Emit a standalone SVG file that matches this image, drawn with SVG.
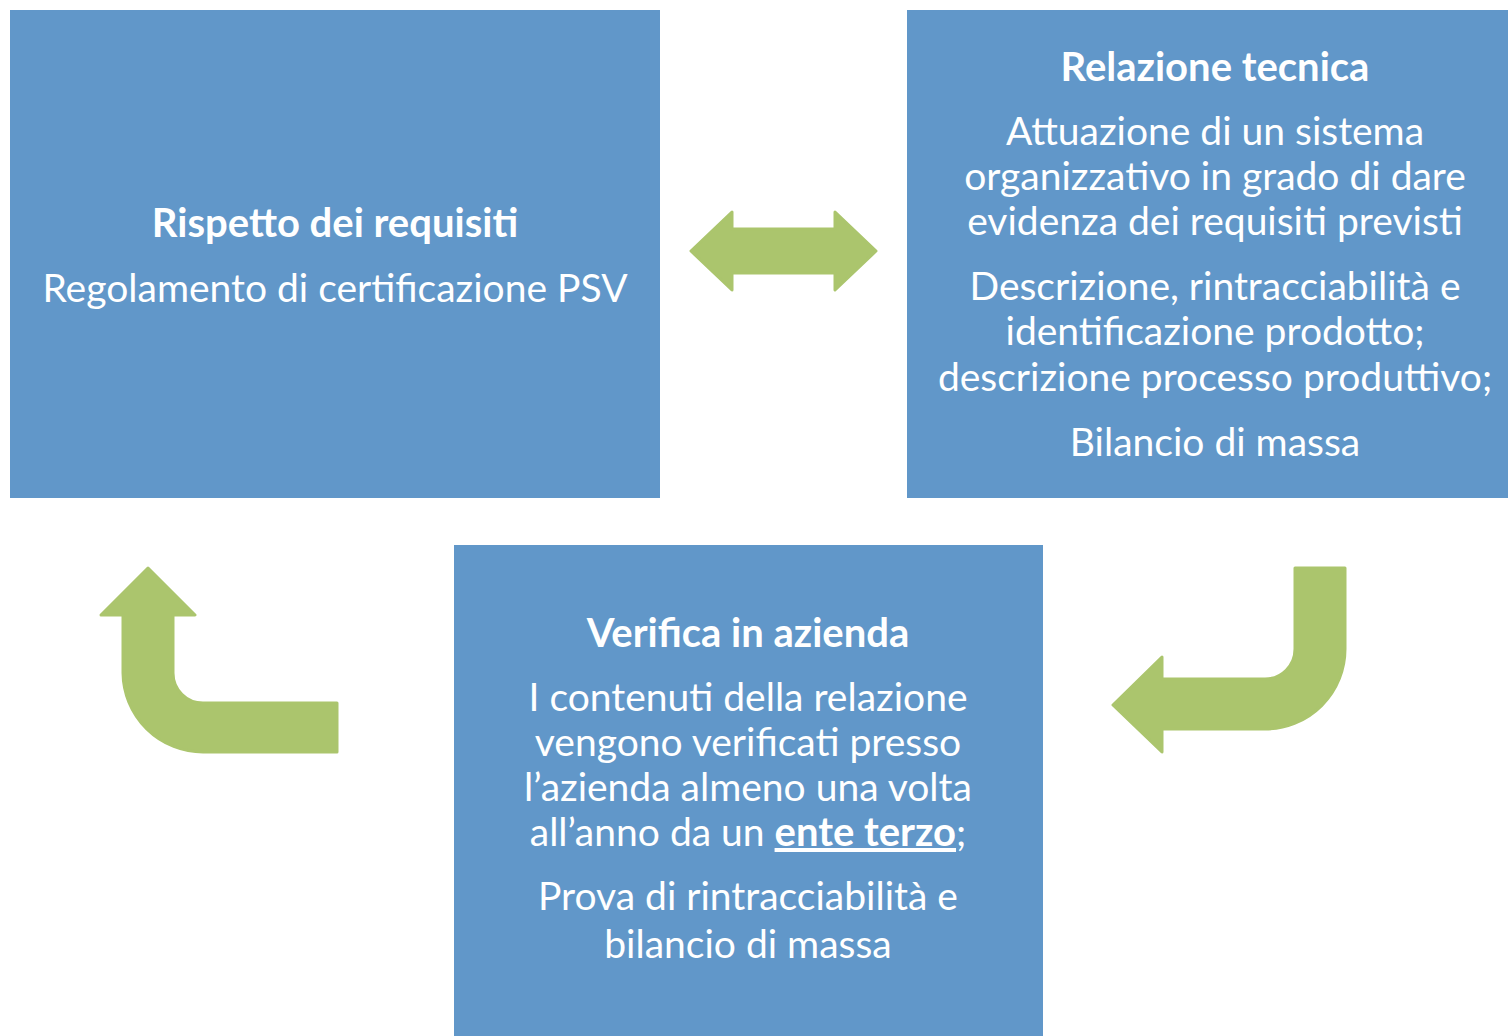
<svg xmlns="http://www.w3.org/2000/svg" width="1508" height="1036" viewBox="0 0 1508 1036">
<style>
.box{fill:#6197C9}
.arr{fill:#ABC56D;stroke:#ABC56D;stroke-width:3;stroke-linejoin:round}
text{font-family:Lato,"Open Sans",sans-serif;font-size:39px;fill:#fff;text-anchor:middle}
.b{font-weight:bold;font-size:40px}
</style>
<rect width="1508" height="1036" fill="#fff"/>
<g id="node-rispetto">
<rect class="box" x="10" y="10" width="650" height="488"/>
<text class="b" x="335" y="237">Rispetto dei requisiti</text>
<text x="335" y="302">Regolamento di certificazione PSV</text>
</g>
<g id="node-relazione">
<rect class="box" x="907" y="10" width="620" height="488"/>
<text class="b" x="1215" y="81">Relazione tecnica</text>
<text x="1215" y="145">Attuazione di un sistema</text>
<text x="1215" y="190">organizzativo in grado di dare</text>
<text x="1215" y="235">evidenza dei requisiti previsti</text>
<text x="1215" y="300">Descrizione, rintracciabilità e</text>
<text x="1215" y="345">identificazione prodotto;</text>
<text x="1215" y="391">descrizione processo produttivo;</text>
<text x="1215" y="456">Bilancio di massa</text>
</g>
<g id="node-verifica">
<rect class="box" x="454" y="545" width="589" height="500"/>
<text class="b" x="748" y="647">Verifica in azienda</text>
<text x="748" y="711">I contenuti della relazione</text>
<text x="748" y="756">vengono verificati presso</text>
<text x="748" y="801">l’azienda almeno una volta</text>
<text x="748" y="846">all’anno da un <tspan class="b" font-size="39" text-decoration="underline">ente terzo</tspan>;</text>
<text x="748" y="910">Prova di rintracciabilità e</text>
<text x="748" y="958">bilancio di massa</text>
</g>
<g id="connectors">
<path class="arr" d="M691,251 L732,212 L732,229 L835,229 L835,212 L876,251 L835,290 L835,273 L732,273 L732,290 Z"/>
<path class="arr" d="M148,568 L195,615 L173,615 L173,673 A30,30 0 0 0 203,703 L337,703 L337,752 L203,752 A80,80 0 0 1 123,673 L123,615 L101,615 Z"/>
<path class="arr" d="M1113,705 L1162,657 L1162,679 L1265,679 A30,30 0 0 0 1295,649 L1295,568 L1345,568 L1345,649 A80,80 0 0 1 1265,729 L1162,729 L1162,752 Z"/>
</g>
</svg>
